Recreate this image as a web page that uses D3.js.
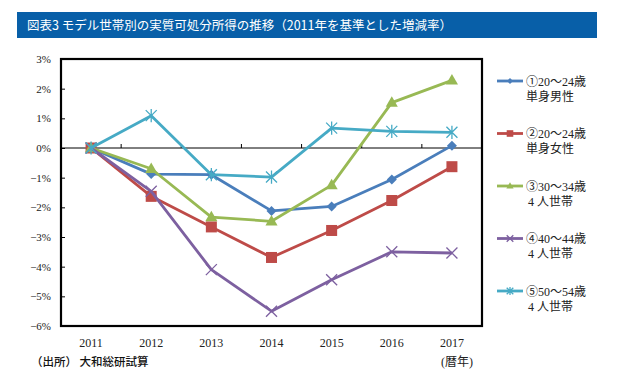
<!DOCTYPE html>
<html>
<head>
<meta charset="utf-8">
<script src="https://cdn.jsdelivr.net/npm/d3@7"></script>
<style>
  body { margin: 0; background: #fff; }
  svg { display: block; }
  .serif { font-family: "Liberation Serif", "DejaVu Serif", "Noto Sans CJK JP", serif; }
  .gothic { font-family: "Noto Sans CJK JP", sans-serif; }
</style>
</head>
<body>
<svg id="chart" width="624" height="386"></svg>
<script>
const years = ['2011', '2012', '2013', '2014', '2015', '2016', '2017'];
const yTicks = [3, 2, 1, 0, -1, -2, -3, -4, -5, -6];

const single_m = [0, -0.88, -0.9, -2.12, -1.97, -1.06, 0.08];
const single_f = [0, -1.63, -2.66, -3.69, -2.78, -1.77, -0.63];
const family30 = [0, -0.7, -2.33, -2.47, -1.25, 1.53, 2.28];
const family40 = [0, -1.46, -4.1, -5.5, -4.44, -3.5, -3.54];
const family50 = [0, 1.09, -0.9, -0.98, 0.67, 0.56, 0.53];

const series = [
  { name: ['①20～24歳', '単身男性'], values: single_m, color: '#4a7ebb', marker: 'diamond' },
  { name: ['②20～24歳', '単身女性'], values: single_f, color: '#be4b48', marker: 'square' },
  { name: ['③30～34歳', '4 人世帯'], values: family30, color: '#98b954', marker: 'triangle' },
  { name: ['④40～44歳', '4 人世帯'], values: family40, color: '#7d60a0', marker: 'cross' },
  { name: ['⑤50～54歳', '4 人世帯'], values: family50, color: '#46aac5', marker: 'star' },
];

const svg = d3.select('#chart');
const plot = { left: 61, right: 482, top: 59, bottom: 326 };

// title bar
svg.append('rect')
  .attr('x', 17).attr('y', 12).attr('width', 580).attr('height', 26)
  .attr('fill', '#085fa8');
svg.append('text')
  .attr('class', 'gothic')
  .attr('x', 27).attr('y', 30)
  .attr('fill', '#fff')
  .style('font-size', '12.5px')
  .text('図表3  モデル世帯別の実質可処分所得の推移（2011年を基準とした増減率）');

const x = d3.scaleBand().domain(years).range([plot.left, plot.right]);
const y = d3.scaleLinear().domain([-6, 3]).range([plot.bottom, plot.top]);
const cx = (d) => x(d) + x.bandwidth() / 2;

// y axis labels + inner ticks
const yAxis = svg.append('g')
  .attr('transform', `translate(${plot.left},0)`)
  .call(d3.axisLeft(y).tickValues(yTicks).tickSize(-4).tickPadding(10)
    .tickFormat((d) => `${d < 0 ? '−' : ''}${Math.abs(d)}%`));
yAxis.select('.domain').remove();
yAxis.selectAll('line').attr('stroke', '#000');
yAxis.selectAll('text')
  .attr('class', 'serif')
  .style('font-size', '11px')
  .attr('fill', '#222');

// zero line with category ticks
svg.append('line')
  .attr('x1', plot.left).attr('x2', plot.right)
  .attr('y1', y(0)).attr('y2', y(0))
  .attr('stroke', '#000').attr('stroke-width', 1);
svg.append('g')
  .selectAll('line')
  .data(years.slice(1))
  .join('line')
  .attr('x1', (d) => x(d)).attr('x2', (d) => x(d))
  .attr('y1', y(0)).attr('y2', y(0) - 4)
  .attr('stroke', '#000');

// x labels
svg.append('g')
  .selectAll('text')
  .data(years)
  .join('text')
  .attr('class', 'serif')
  .attr('x', cx).attr('y', 347)
  .attr('text-anchor', 'middle')
  .style('font-size', '12px')
  .attr('fill', '#222')
  .text((d) => d);

// plot frame
svg.append('rect')
  .attr('x', plot.left).attr('y', plot.top)
  .attr('width', plot.right - plot.left).attr('height', plot.bottom - plot.top)
  .attr('fill', 'none').attr('stroke', '#000').attr('stroke-width', 2.2);

const drawMarker = (g, type, color, s) => {
  if (type === 'diamond') {
    g.append('path').attr('d', `M0,${-s}L${s},0L0,${s}L${-s},0Z`).attr('fill', color);
  } else if (type === 'square') {
    g.append('rect').attr('x', -s).attr('y', -s).attr('width', 2 * s).attr('height', 2 * s).attr('fill', color);
  } else if (type === 'triangle') {
    g.append('path').attr('d', `M0,${-s * 1.15}L${s * 1.1},${s * 0.75}L${-s * 1.1},${s * 0.75}Z`).attr('fill', color);
  } else if (type === 'cross') {
    g.append('path').attr('d', `M${-s},${-s}L${s},${s}M${-s},${s}L${s},${-s}`)
      .attr('stroke', color).attr('stroke-width', 1.3);
  } else {
    g.append('path').attr('d', `M${-s},${-s}L${s},${s}M${-s},${s}L${s},${-s}M0,${-s * 1.2}L0,${s * 1.2}`)
      .attr('stroke', color).attr('stroke-width', 1.3);
  }
};

const markerSize = { diamond: 5, square: 5.5, triangle: 5.5, cross: 5.5, star: 5.5 };

const line = d3.line().x((d, i) => cx(years[i])).y((d) => y(d));

series.forEach((s) => {
  svg.append('path')
    .datum(s.values)
    .attr('d', line)
    .attr('fill', 'none')
    .attr('stroke', s.color)
    .attr('stroke-width', 2.8)
    .attr('stroke-linejoin', 'round');
  s.values.forEach((v, i) => {
    const g = svg.append('g').attr('transform', `translate(${cx(years[i])},${y(v)})`);
    drawMarker(g, s.marker, s.color, markerSize[s.marker]);
  });
});

// legend
const legend = svg.append('g').attr('transform', 'translate(497,81)');
series.forEach((s, i) => {
  const g = legend.append('g').attr('transform', `translate(0,${i * 52.5})`);
  g.append('line').attr('x1', 0).attr('x2', 26).attr('y1', 0).attr('y2', 0)
    .attr('stroke', s.color).attr('stroke-width', 2.8);
  const m = g.append('g').attr('transform', 'translate(13,0)');
  drawMarker(m, s.marker, s.color, markerSize[s.marker] * 0.6);
  g.append('text')
    .attr('class', 'serif')
    .attr('x', 29).attr('y', 4.5)
    .style('font-size', '12px')
    .attr('fill', '#222')
    .text(s.name[0]);
  g.append('text')
    .attr('class', 'serif')
    .attr('x', i < 2 ? 29 : 31).attr('y', 19.5)
    .style('font-size', '12px')
    .attr('fill', '#222')
    .text(s.name[1]);
});

// footer
svg.append('text')
  .attr('class', 'gothic')
  .attr('x', 31).attr('y', 366)
  .style('font-size', '11.5px')
  .style('font-weight', 500)
  .attr('fill', '#111')
  .text('（出所） 大和総研試算');
svg.append('text')
  .attr('class', 'serif')
  .attr('x', 441).attr('y', 366)
  .style('font-size', '12px')
  .attr('fill', '#222')
  .text('(暦年)');
</script>
</body>
</html>
